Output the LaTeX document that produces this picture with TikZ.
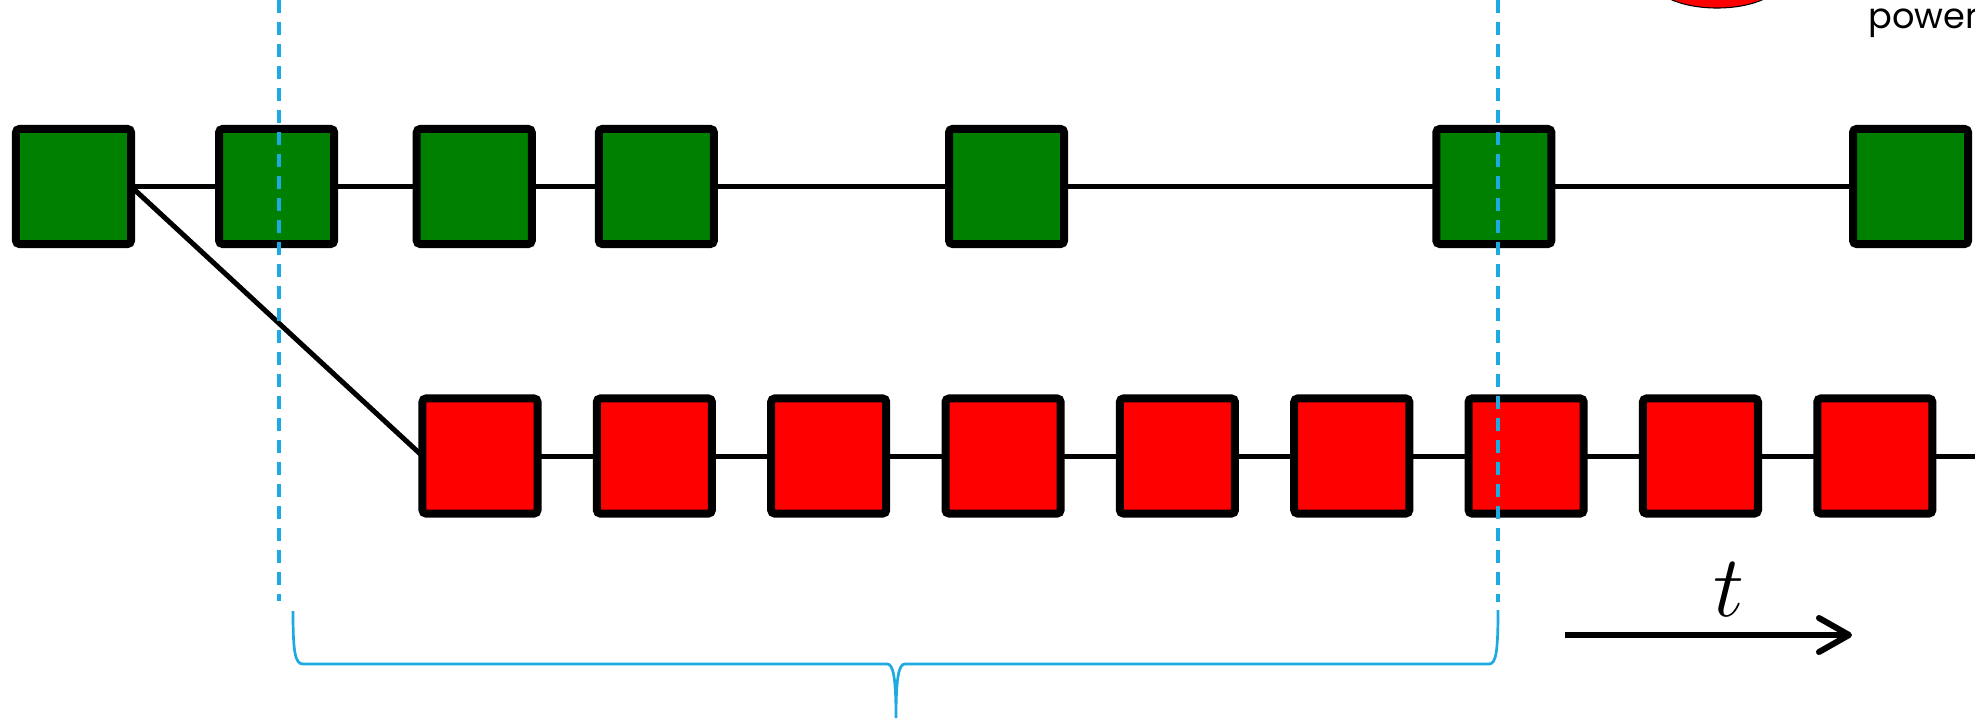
\documentclass[tikz,border=0pt]{standalone}
\usepackage{fontspec}
\usetikzlibrary{positioning, arrows.meta}
\newfontfamily\logofont{Poppins}
\definecolor{boxgreen}{RGB}{0,128,0}
\definecolor{cutblue}{RGB}{29,170,226}

\begin{document}
\begin{tikzpicture}[
    x=0.01cm, y=-0.01cm,
    node distance=0.5925cm,
    slot/.style={draw, line width=0.08cm, rounded corners=1pt, minimum width=1.15cm, minimum height=1.15cm, inner sep=0pt, outer sep=0pt},
    kept/.style={slot, fill=boxgreen},
    fresh/.style={slot, fill=red},
    link/.style={line width=0.05cm},
    cut/.style={cutblue, line width=0.033cm, dash pattern=on 0.13cm off 0.09cm},
    span/.style={cutblue, line width=0.027cm},
    timearr/.style={-{Straight Barb[length=0.3cm, width=0.34cm, round]}, line width=0.06cm},
]
\useasboundingbox (0,0) rectangle (1975,721);
\clip (0,0) rectangle (1975,721);

% upper row
\node[kept] (g1) at (73.5,186.5) {};
\node[kept, right=0.88cm of g1] (g2) {};
\node[kept, right=0.825cm of g2] (g3) {};
\node[kept, right=0.67cm of g3] (g4) {};
\node[kept, right=2.35cm of g4] (g5) {};
\node[kept, right=3.72cm of g5] (g6) {};
\node[kept, right=3.015cm of g6] (g7) {};

% lower row
\node[fresh] (r1) at (480,456) {};
\node[fresh, right=of r1] (r2) {};
\node[fresh, right=of r2] (r3) {};
\node[fresh, right=of r3] (r4) {};
\node[fresh, right=of r4] (r5) {};
\node[fresh, right=of r5] (r6) {};
\node[fresh, right=of r6] (r7) {};
\node[fresh, right=of r7] (r8) {};
\node[fresh, right=of r8] (r9) {};
\coordinate (redend) at (1995,456);

\draw[link] (g1) -- (g2) (g2) -- (g3) (g3) -- (g4) (g4) -- (g5) (g5) -- (g6) (g6) -- (g7);
\draw[link] (g1.east) -- (r1.west);
\draw[link] (r1) -- (r2) (r2) -- (r3) (r3) -- (r4) (r4) -- (r5) (r5) -- (r6) (r6) -- (r7) (r7) -- (r8) (r8) -- (r9) (r9) -- (redend);

% cuts
\coordinate (cutAtop) at (279,0);
\coordinate (cutAbot) at (279,601);
\coordinate (cutBtop) at (1498,0);
\coordinate (cutBbot) at (1498,602);
\draw[cut] (cutAtop) -- (cutAbot);
\draw[cut] (cutBtop) -- (cutBbot);
\draw[span] (293,611) .. controls (293,652) and (295,664) .. (303,664) -- (887,664)
    .. controls (893,664) and (896,676) .. (896,718)
    .. controls (896,676) and (899,664) .. (905,664) -- (1489,664)
    .. controls (1496,664) and (1498,652) .. (1498,610);

% time
\coordinate (tstart) at (1565,635);
\coordinate (tend) at (1852,635);
\draw[timearr] (tstart) -- (tend) node[pos=0.57, above=0.15cm, inner sep=0pt, font=\fontsize{26}{30}\selectfont] (tlabel) {$t$};

% logo corner
\draw[fill=red, line width=0.3pt] (1717,-22) ellipse [x radius=0.66cm, y radius=0.3cm];
\node[anchor=base west, inner sep=0pt, font=\logofont\fontsize{10}{12}\selectfont] (credit) at (1868,28) {power};
\end{tikzpicture}
\end{document}
